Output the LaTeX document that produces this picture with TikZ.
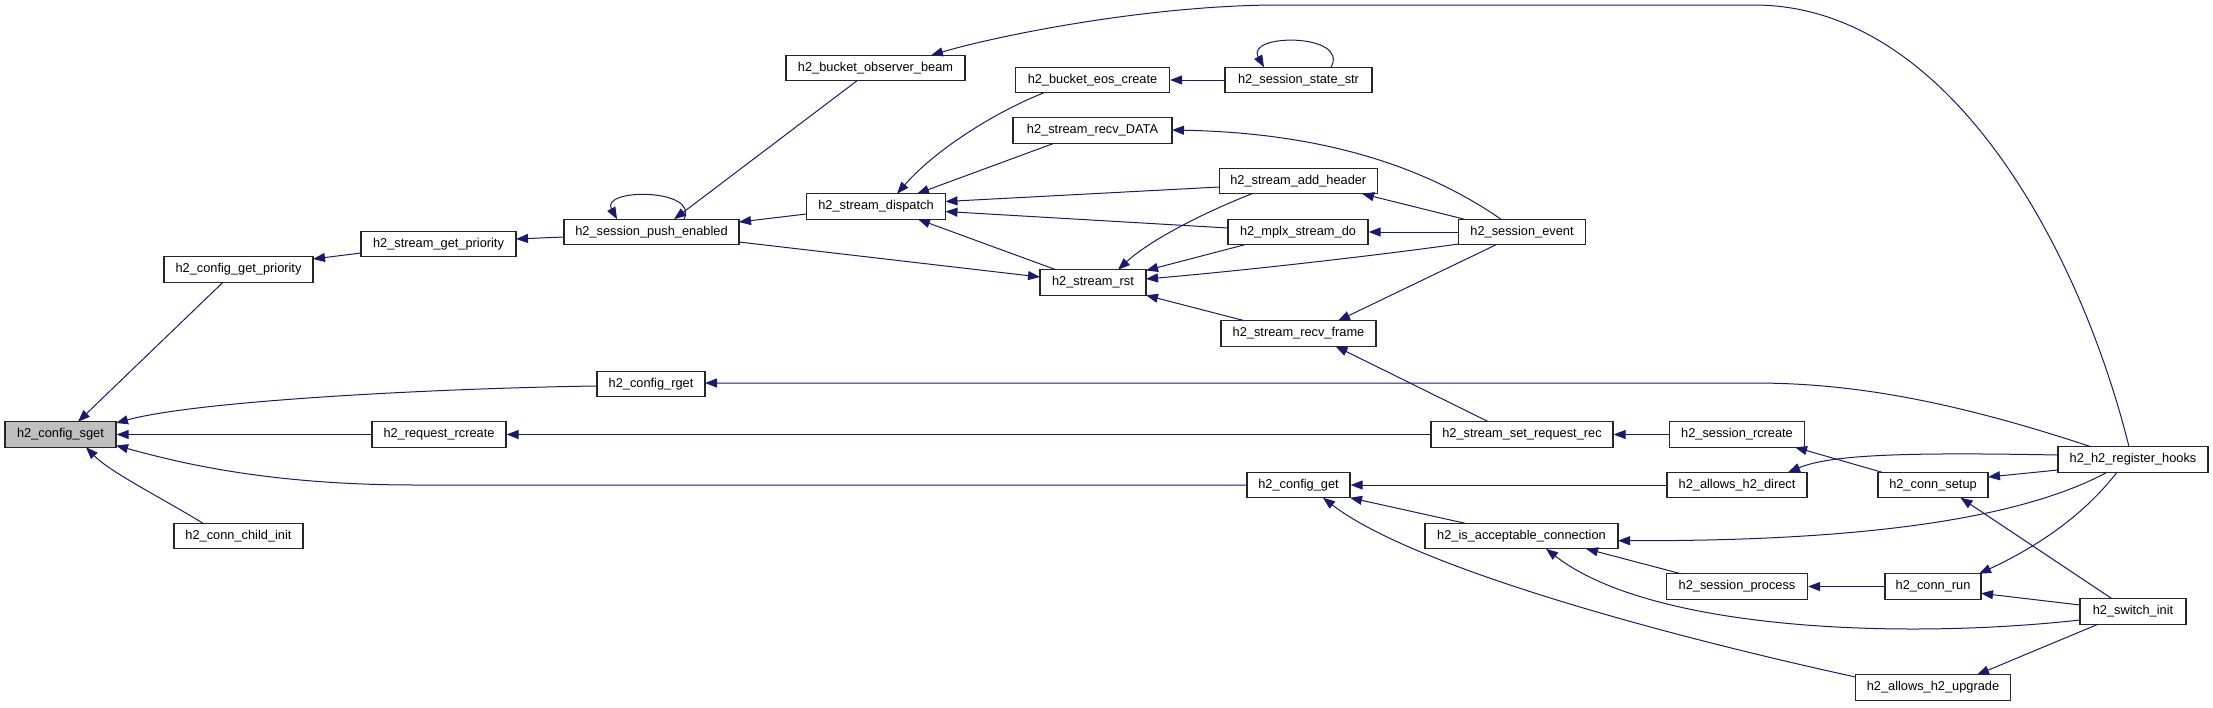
\documentclass[tikz,border=0pt]{standalone}
\usepackage{fontspec}
\setmainfont{Liberation Sans}
\usetikzlibrary{arrows.meta,calc}
\definecolor{edgeblue}{RGB}{25,25,112}
\definecolor{rootgray}{RGB}{191,191,191}
\tikzset{
  fn/.style={draw=black!85, line width=1.2pt, fill=white, rectangle, inner sep=0pt,
    minimum height=25.5pt, font=\fontsize{12.8}{15}\selectfont},
  root/.style={fn, fill=rootgray},
  edge/.style={draw=edgeblue, line width=1pt, -{Triangle[length=12pt,width=9pt,fill=edgeblue]}}
}
\begin{document}
\begin{tikzpicture}[x=1pt,y=-1pt]
\useasboundingbox (0,0) rectangle (2213,707);
% nodes
\node[root, minimum width=111pt] (sget) at (60.5,434.5) {h2\_config\_sget};
\node[fn, minimum width=149pt] (cgp) at (238.5,269.5) {h2\_config\_get\_priority};
\node[fn, minimum width=129pt] (cci) at (238.5,536) {h2\_conn\_child\_init};
\node[fn, minimum width=155pt] (sgp) at (438.5,244) {h2\_stream\_get\_priority};
\node[fn, minimum width=134pt] (rrc) at (439,434.5) {h2\_request\_rcreate};
\node[fn, minimum width=175pt] (spe) at (651.5,232) {h2\_session\_push\_enabled};
\node[fn, minimum width=108pt] (rget) at (651,384) {h2\_config\_rget};
\node[fn, minimum width=179pt] (obb) at (875.5,68) {h2\_bucket\_observer\_beam};
\node[fn, minimum width=139pt] (sd) at (876,206.5) {h2\_stream\_dispatch};
\node[fn, minimum width=154pt] (eos) at (1092.5,80) {h2\_bucket\_eos\_create};
\node[fn, minimum width=159pt] (rdata) at (1092.5,130.5) {h2\_stream\_recv\_DATA};
\node[fn, minimum width=106pt] (rst) at (1093,282.5) {h2\_stream\_rst};
\node[fn, minimum width=147pt] (sss) at (1298.5,80) {h2\_session\_state\_str};
\node[fn, minimum width=158pt] (sah) at (1298.3,181) {h2\_stream\_add\_header};
\node[fn, minimum width=140pt] (msd) at (1298,232) {h2\_mplx\_stream\_do};
\node[fn, minimum width=155pt] (srf) at (1298.5,333.5) {h2\_stream\_recv\_frame};
\node[fn, minimum width=103pt] (cget) at (1298.5,485) {h2\_config\_get};
\node[fn, minimum width=127pt] (sev) at (1522,232) {h2\_session\_event};
\node[fn, minimum width=182pt] (ssr) at (1522,434.5) {h2\_stream\_set\_request\_rec};
\node[fn, minimum width=193pt] (iac) at (1521.5,536) {h2\_is\_acceptable\_connection};
\node[fn, minimum width=135pt] (srcr) at (1737,434.5) {h2\_session\_rcreate};
\node[fn, minimum width=140pt] (ad) at (1737,485) {h2\_allows\_h2\_direct};
\node[fn, minimum width=141pt] (sp) at (1737,586.5) {h2\_session\_process};
\node[fn, minimum width=110pt] (cs) at (1933,485) {h2\_conn\_setup};
\node[fn, minimum width=96pt] (cr) at (1933,586.5) {h2\_conn\_run};
\node[fn, minimum width=155pt] (au) at (1933,687.5) {h2\_allows\_h2\_upgrade};
\node[fn, minimum width=150pt] (rh) at (2133,459.5) {h2\_h2\_register\_hooks};
\node[fn, minimum width=106pt] (si) at (2133,611.5) {h2\_switch\_init};
% edges (caller -> callee, arrowhead at callee)
\draw[edge] ($(cgp)+(-15.5,12.75)$) -- ($(sget)+(17.5,-12.75)$);
\draw[edge] ($(rget)+(-54,2)$) .. controls (450,388) and (200,400) .. ($(sget)+(55.5,-11.5)$);
\draw[edge] (rrc.west) -- (sget.east);
\draw[edge] (cget.west) -- (416,485) .. controls (260,485) and (170,460) .. ($(sget)+(55.5,11)$);
\draw[edge] ($(cci)+(-35.5,-12.75)$) .. controls (160,497) and (110,472) .. ($(sget)+(25.5,12.75)$);
\draw[edge] ($(sgp)+(-77.5,9)$) -- ($(cgp)+(74.5,-10.5)$);
\draw[edge] ($(spe)+(-87.5,5)$) -- ($(sgp)+(77.5,-5)$);
\draw[edge] ($(spe)+(32.5,-12.75)$) .. controls (700,188) and (600,188) .. ($(spe)+(-34.5,-12.75)$);
\draw[edge] ($(obb)+(-18.5,12.75)$) -- ($(spe)+(22.5,-12.75)$);
\draw[edge] ($(sd)+(-69.5,7.5)$) -- ($(spe)+(87.5,-10)$);
\draw[edge] ($(spe)+(87.5,10)$) -- ($(rst)+(-53,-5.5)$);
\draw[edge] ($(eos)+(-48.5,12.75)$) .. controls (995,112) and (935,150) .. ($(sd)+(21,-12.75)$);
\draw[edge] ($(rdata)+(-38.5,12.75)$) -- ($(sd)+(41,-12.75)$);
\draw[edge] ($(sah)+(-79,6)$) -- ($(sd)+(69.5,-5)$);
\draw[edge] ($(msd)+(-70,-4)$) -- ($(sd)+(69.5,5)$);
\draw[edge] ($(rst)+(-37,-12.75)$) -- ($(sd)+(42,12.75)$);
\draw[edge] (sss.west) -- (eos.east);
\draw[edge] ($(sss)+(32.5,-12.75)$) .. controls (1350,33) and (1245,33) .. ($(sss)+(-34.5,-12.75)$);
\draw[edge] ($(rh)+(-4,-12.75)$) .. controls (2080,250) and (1950,5) .. (1754,5) -- (1280,5) .. controls (1150,5) and (1000,35) .. ($(obb)+(55.5,-12.75)$);
\draw[edge] ($(sev)+(-21,-12.75)$) .. controls (1430,170) and (1330,133) .. ($(rdata)+(79.5,-0.5)$);
\draw[edge] ($(sev)+(-57.4,-12.75)$) -- ($(sah)+(63.7,12.75)$);
\draw[edge] ($(sah)+(-46.3,12.75)$) .. controls (1205,212) and (1150,240) .. ($(rst)+(25,-12.75)$);
\draw[edge] (sev.west) -- (msd.east);
\draw[edge] ($(msd)+(-53.4,12.75)$) -- ($(rst)+(53,-12)$);
\draw[edge] ($(sev)+(-63.5,12)$) .. controls (1380,255) and (1250,270) .. ($(rst)+(53,-3.5)$);
\draw[edge] ($(srf)+(-53.9,-12.75)$) -- ($(rst)+(53,12.75)$);
\draw[edge] ($(sev)+(-26,12.75)$) -- ($(srf)+(39.5,-12.75)$);
\draw[edge] ($(ssr)+(-33.5,-12.75)$) -- ($(srf)+(37,12.75)$);
\draw[edge] ($(rh)+(-42,-12.75)$) .. controls (1950,400) and (1850,383) .. (1754,383) -- ($(rget)+(54,-1)$);
\draw[edge] (ssr.west) -- (rrc.east);
\draw[edge] (srcr.west) -- (ssr.east);
\draw[edge] ($(cs)+(-51,-12.75)$) -- ($(srcr)+(58,12.75)$);
\draw[edge] ($(rh)+(-75,-4.5)$) .. controls (1900,452) and (1830,455) .. ($(ad)+(51,-12.75)$);
\draw[edge] (ad.west) -- (cget.east);
\draw[edge] ($(rh)+(-75,10.5)$) -- ($(cs)+(55,-8)$);
\draw[edge] ($(si)+(-21,-12.75)$) -- ($(cs)+(27.5,12.75)$);
\draw[edge] ($(rh)+(-26,12.75)$) .. controls (2000,530) and (1800,541) .. ($(iac)+(96.5,4.7)$);
\draw[edge] ($(rh)+(-16,12.75)$) .. controls (2080,520) and (2030,550) .. ($(cr)+(46,-12.75)$);
\draw[edge] ($(iac)+(-56.5,-12.75)$) -- ($(cget)+(51.5,12.75)$);
\draw[edge] ($(au)+(-77.5,-10.5)$) .. controls (1650,632) and (1410,565) .. ($(cget)+(24.5,12.75)$);
\draw[edge] ($(sp)+(-56,-12.75)$) -- ($(iac)+(64.5,12.75)$);
\draw[edge] ($(si)+(-53,8.5)$) .. controls (1900,640) and (1650,630) .. ($(iac)+(24.5,12.75)$);
\draw[edge] (cr.west) -- (sp.east);
\draw[edge] ($(si)+(-53,-6.5)$) -- ($(cr)+(48,6.8)$);
\draw[edge] ($(si)+(-35,12.75)$) -- ($(au)+(44,-12.75)$);
\end{tikzpicture}
\end{document}
